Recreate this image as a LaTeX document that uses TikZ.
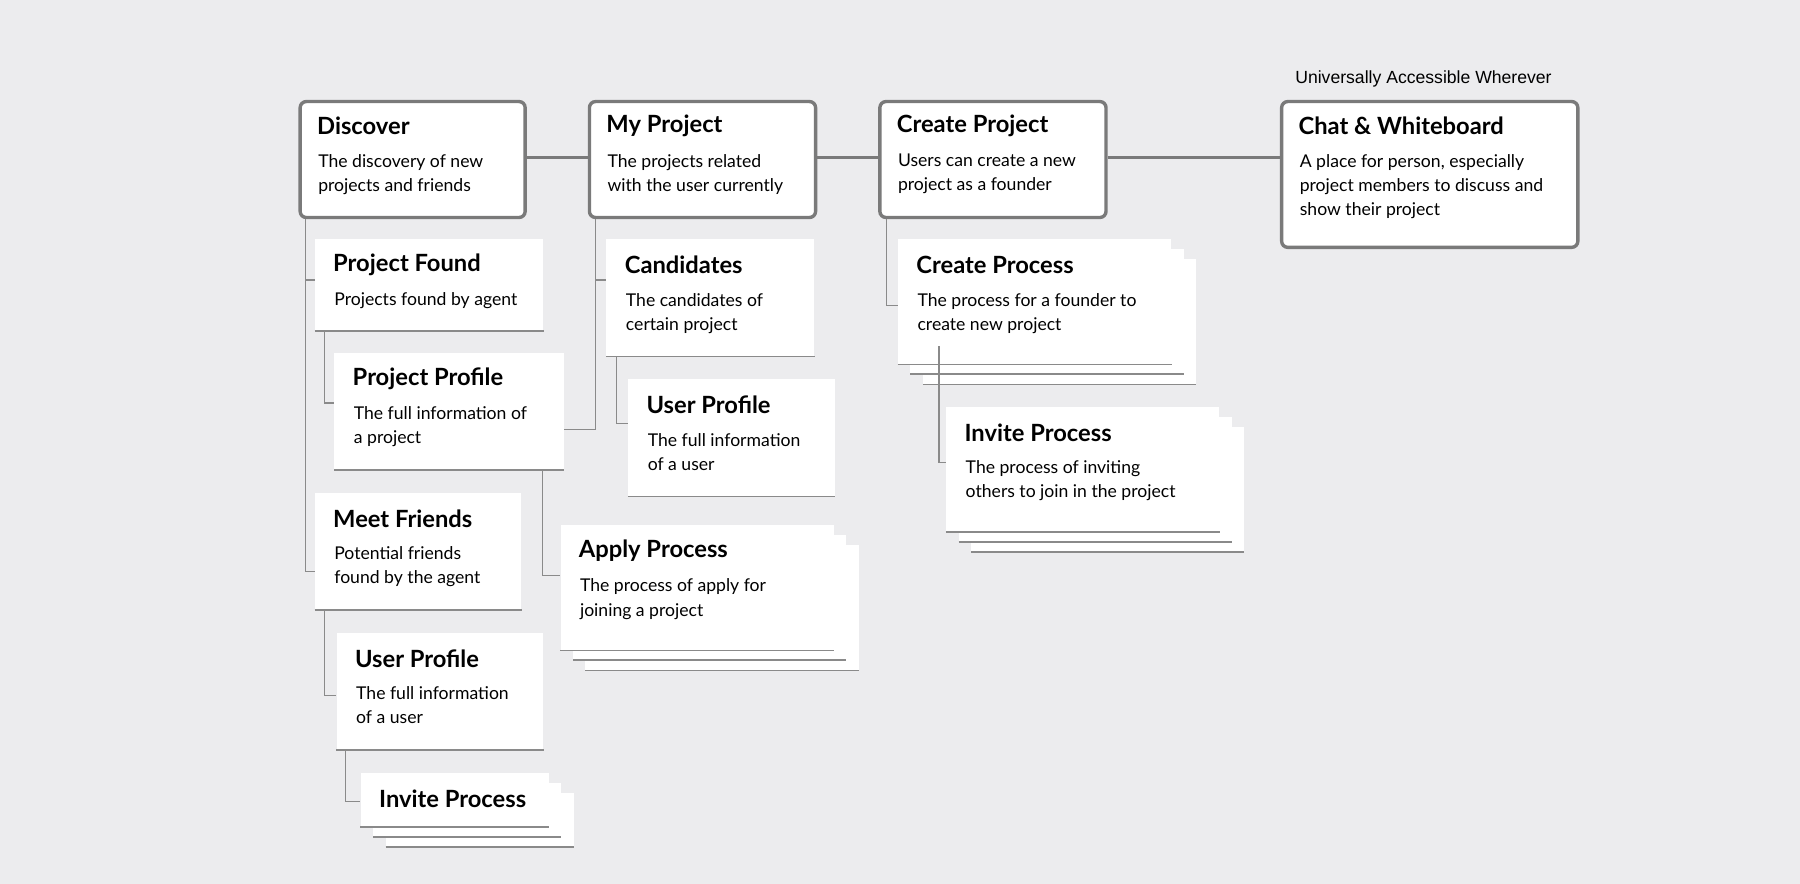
\documentclass[tikz,border=0pt]{standalone}
\usepackage{fontspec}
\setmainfont{Lato}
\newfontfamily\arialfont{Liberation Sans}
\definecolor{bgc}{HTML}{ECECEE}
\definecolor{framec}{HTML}{7A7A7A}
\definecolor{linec}{HTML}{8A8A8A}
\tikzset{
  topbox/.style={draw=framec, line width=2.2pt, rounded corners=4pt, fill=white, anchor=north west, inner sep=0pt},
  subbox/.style={fill=white, anchor=north west, inner sep=0pt},
  ttl/.style={anchor=west, inner sep=0pt, font=\fontsize{15.5}{18}\selectfont\bfseries},
  dsc/.style={anchor=north west, inner sep=0pt, align=left, font=\fontsize{11.5}{15.8}\selectfont},
  tree/.style={draw=linec, line width=0.8pt},
  baseline/.style={draw=linec, line width=1pt},
  hub/.style={draw=framec, line width=2.2pt}
}
% box with title and text
\newcommand{\infobox}[8]{%
  \node[#1, minimum width=#5, minimum height=#6] (#2) at (#3,#4) {};
  \node[ttl] (#2t) at ([shift={(16,23)}]#2.north west) {#7};
  \node[dsc] (#2d) at ([shift={(17,47)}]#2.north west) {#8};
}
% stacked layers behind a box
\newcommand{\layers}[5]{%
  \fill[white] (#1+22,#2+18) rectangle (#1+#3+22,#2+#4+18);
  \draw[baseline] (#1+22,#2+#4+18) -- (#1+#3+22,#2+#4+18);
  \fill[white] (#1+11,#2+9) rectangle (#1+#3+11,#2+#4+9);
  \draw[baseline] (#1+11,#2+#4+9) -- (#1+#3+11,#2+#4+9);
}
\begin{document}
\begin{tikzpicture}[x=0.75pt, y=-0.75pt]
\fill[bgc] (0,0) rectangle (1568,770);
\useasboundingbox (0,0) rectangle (1568,770);

% top row
\infobox{topbox}{dis}{260}{87}{147pt}{75.75pt}{Discover}{The discovery of new\\projects and friends}
\infobox{topbox}{myp}{512}{87}{147.75pt}{75.75pt}{My Project}{The projects related\\with the user currently}
\infobox{topbox}{crp}{765}{87}{147.75pt}{75.75pt}{Create Project}{Users can create a new\\project as a founder}
\infobox{topbox}{chat}{1115}{87}{193.5pt}{95.25pt}{Chat \& Whiteboard}{A place for person, especially\\project members to discuss and\\show their project}
\node[anchor=south, inner sep=0pt, font=\arialfont\fontsize{11.5}{13}\selectfont] (uni) at (1240,76) {Universally Accessible Wherever};

\draw[hub] (dis.east |- 0,137) -- (myp.west |- 0,137);
\draw[hub] (myp.east |- 0,137) -- (crp.west |- 0,137);
\draw[hub] (crp.east |- 0,137) -- (chat.west |- 0,137);

% stacked layers
\layers{314}{673}{164}{47}{}
\layers{488}{457}{238}{109}{}
\layers{782}{208}{238}{109}{}
\layers{824}{354}{238}{109}{}

% sub boxes
\infobox{subbox}{pf}{274}{208}{149.25pt}{60pt}{Project Found}{Projects found by agent}
\infobox{subbox}{pp}{291}{307}{150pt}{76.5pt}{Project Profile}{The full information of\\a project}
\infobox{subbox}{mf}{274}{429}{135pt}{76.5pt}{Meet Friends}{Potential friends\\found by the agent}
\infobox{subbox}{upa}{293}{551}{135pt}{76.5pt}{User Profile}{The full information\\of a user}
\infobox{subbox}{ipa}{314}{673}{123pt}{35.25pt}{Invite Process}{}
\infobox{subbox}{cand}{528}{208}{135.75pt}{76.5pt}{Candidates}{The candidates of\\certain project}
\infobox{subbox}{upb}{547}{330}{135pt}{76.5pt}{User Profile}{The full information\\of a user}
\infobox{subbox}{ap}{488}{457}{178.5pt}{81.75pt}{Apply Process}{The process of apply for\\joining a project}
\infobox{subbox}{cp}{782}{208}{178.5pt}{81.75pt}{Create Process}{The process for a founder to\\create new project}
\infobox{subbox}{ipb}{824}{354}{178.5pt}{81.75pt}{Invite Process}{The process of inviting\\others to join in the project}

\foreach \n in {pf,pp,mf,upa,ipa,cand,upb,ap,cp,ipb}
  \draw[baseline] (\n.south west) -- (\n.south east);

% tree connectors
\draw[tree] ([xshift=4.5pt]dis.south west) |- ([yshift=-27pt]pf.north west);
\draw[tree] ([xshift=4.5pt]dis.south west) |- ([yshift=-51.75pt]mf.north west);
\draw[tree] ([xshift=6.75pt]pf.south west) |- ([yshift=-33pt]pp.north west);
\draw[tree] ([xshift=-14.25pt]pp.south east) |- ([yshift=-33pt]ap.north west);
\draw[tree] ([xshift=5.25pt]myp.south west) |- ([yshift=-27pt]cand.north west);
\draw[tree] ([xshift=5.25pt]myp.south west) |- ([yshift=-50.25pt]pp.north east);
\draw[tree] ([xshift=6.75pt]cand.south west) |- ([yshift=-29.25pt]upb.north west);
\draw[tree] ([xshift=6.75pt]mf.south west) |- ([yshift=-41.25pt]upa.north west);
\draw[tree] ([xshift=6pt]upa.south west) |- ([yshift=-18.75pt]ipa.north west);
\draw[tree] ([xshift=5.25pt]crp.south west) |- ([yshift=-43.5pt]cp.north west);
\draw[tree] ([xshift=27pt]cp.south west) ++(0,12pt) |- ([yshift=-36.75pt]ipb.north west);
\end{tikzpicture}
\end{document}
